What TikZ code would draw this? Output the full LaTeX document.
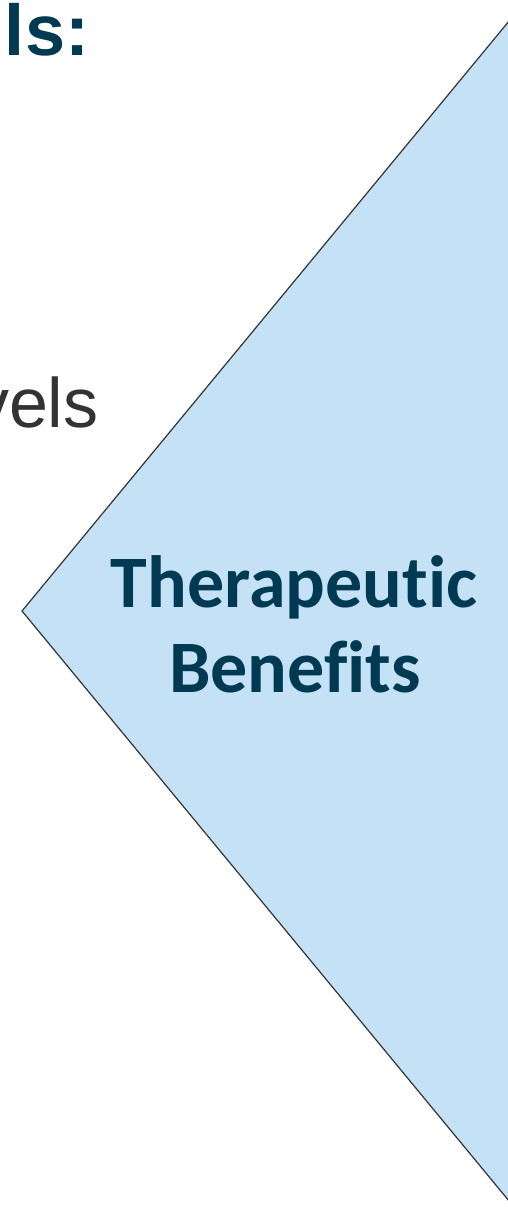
\documentclass[tikz,border=0pt]{standalone}
\usepackage{fontspec}
\setmainfont{Liberation Sans}
\newfontfamily\calib[Ligatures={NoCommon}]{Carlito}
\definecolor{navy}{HTML}{003A52}
\definecolor{paleblue}{HTML}{C4E1F5}
\definecolor{ink}{HTML}{333333}
\begin{document}
\begin{tikzpicture}[x=1pt,y=-1pt,
  plain/.style={inner sep=0pt,outer sep=0pt},
  title/.style={plain,anchor=base,text=navy,font=\calib\bfseries\fontsize{74}{85}\selectfont}]
\useasboundingbox (0,0) rectangle (508,1213);
\clip (0,0) rectangle (508,1213);
% arrow-shaped panel pointing left
\coordinate (tip) at (22,611);
\coordinate (top) at (675,-180);
\coordinate (bot) at (675,1402);
\filldraw[fill=paleblue,draw=ink,line width=1.2pt,line join=miter]
  (top) -- (tip) -- (bot) -- cycle;
% panel title
\node[title] (t1) at (294,607) {Therapeutic};
\node[title] (t2) at (295,692) {Benefits};
% text running in from the left
\node[plain,anchor=base east,text=navy,font=\bfseries\fontsize{72}{84}\selectfont] (h) at (89,55) {lls:};
\node[plain,anchor=base east,text=ink,font=\fontsize{70}{82}\selectfont] (v) at (98.5,427) {vels};
\end{tikzpicture}
\end{document}
